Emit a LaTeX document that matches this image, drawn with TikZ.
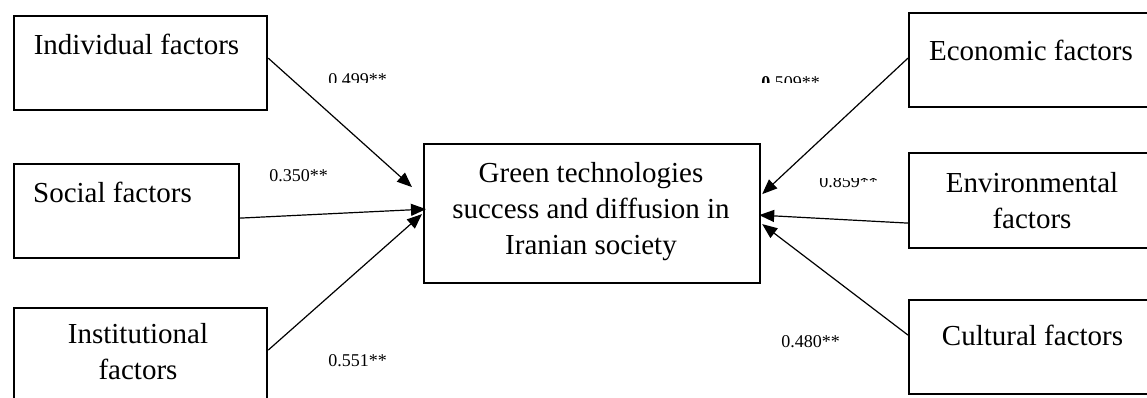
\documentclass[tikz,border=0pt]{standalone}
\usepackage{fontspec}
\setmainfont{Liberation Serif}
\usetikzlibrary{arrows.meta,calc}
\tikzset{
  box/.style={draw, line width=1.1pt, inner sep=0pt, anchor=north west},
  txt/.style={inner sep=0pt, font=\fontsize{14.5pt}{18pt}\selectfont},
  coef/.style={inner sep=0pt, anchor=base west, font=\fontsize{9pt}{11pt}\selectfont},
  link/.style={line width=0.6pt, -{Triangle[length=7.5pt,width=6pt]}}
}
\begin{document}
\begin{tikzpicture}[x=0.5pt,y=-0.5pt]
\useasboundingbox (0,0) rectangle (1147,397);
\clip (0,0) rectangle (1147,397);
% boxes
\node[box, minimum width=126.5pt, minimum height=47pt] (ind) at (13,15) {};
\node[box, minimum width=112.5pt, minimum height=47pt] (soc) at (13,163) {};
\node[box, minimum width=126.5pt, minimum height=51.5pt] (inst) at (13,307) {};
\node[box, minimum width=168pt, minimum height=69.5pt] (ctr) at (423,143) {};
\node[box, minimum width=126pt, minimum height=47pt] (eco) at (908,12) {};
\node[box, minimum width=126pt, minimum height=47.5pt] (env) at (908,152) {};
\node[box, minimum width=126pt, minimum height=47pt] (cul) at (908,299) {};
% box texts
\node[txt, anchor=base] (indT) at (136.5,54) {Individual factors};
\node[txt, anchor=base] (socT) at (112.5,202) {Social factors};
\node[txt, anchor=north, align=center] (instT) at (138,323) {Institutional\\factors};
\node[txt, anchor=north, align=center] (ctrT) at (591,162) {Green technologies\\success and diffusion in\\Iranian society};
\node[txt, anchor=base] (ecoT) at (1031,60) {Economic factors};
\node[txt, anchor=north, align=center] (envT) at (1032,172) {Environmental\\factors};
\node[txt, anchor=base] (culT) at (1032.5,345) {Cultural factors};
% connectors
\draw[link] ($(ind.east)+(0,-5)$) -- ($(ctr.west)+(-11,-26.5)$);
\draw[link] ($(soc.east)+(0,7)$) -- ($(ctr.west)+(3,-4.5)$);
\draw[link] ($(inst.east)+(0,-9.5)$) -- ($(ctr.west)+(-1,0.5)$);
\draw[link] ($(eco.west)+(0,-2)$) -- ($(ctr.east)+(1,-19.5)$);
\draw[link] ($(env.west)+(0,22.5)$) -- ($(ctr.east)+(-2,1.5)$);
\draw[link] ($(cul.west)+(0,-12)$) -- ($(ctr.east)+(1,10.5)$);
% coefficients
\begin{scope}
\clip (300,0) rectangle (420,82);
\node[coef] (c1) at (328,85.5) {0.499**};
\end{scope}
\node[coef] (c2) at (269,181) {0.350**};
\node[coef] (c3) at (328,366) {0.551**};
\begin{scope}
\clip (740,0) rectangle (900,82);
\node[coef] (c4) at (761,88) {\textbf{0}.509**};
\end{scope}
\begin{scope}
\clip (800,178) rectangle (900,200);
\node[coef] (c5) at (819,187.3) {0.859**};
\end{scope}
\node[coef] (c6) at (781,347) {0.480**};
\end{tikzpicture}
\end{document}
